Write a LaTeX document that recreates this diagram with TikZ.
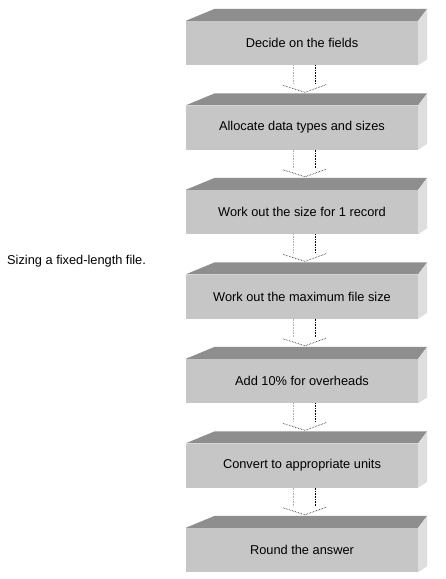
\documentclass[tikz,border=0pt]{standalone}
\usepackage{fontspec}
\setmainfont{Liberation Sans}
\usetikzlibrary{calc}
\definecolor{frontgray}{HTML}{C6C6C6}
\definecolor{topgray}{HTML}{8E8E8E}
\definecolor{sidegray}{HTML}{DEDEDE}
\tikzset{
  stepbox/.style={rectangle, fill=frontgray, minimum width=232pt, minimum height=44pt,
    inner sep=0pt, font=\fontsize{12.8}{15}\selectfont, text=black},
  topface/.style={fill=topgray},
  sideface/.style={fill=sidegray},
  arrlight/.style={draw=black!30, densely dotted, line width=0.6pt},
  arrdark/.style={draw=black, densely dotted, line width=0.6pt},
}
\begin{document}
\begin{tikzpicture}[x=1pt,y=-1pt]
\useasboundingbox (0,0) rectangle (446,579);
\fill[white] (0,0) rectangle (446,579);
\node[anchor=west, inner sep=0pt, font=\fontsize{12.8}{15}\selectfont, text=black] (title) at (7,261) {Sizing a fixed-length file.};
\foreach \i/\t in {1/Decide on the fields, 2/Allocate data types and sizes, 3/Work out the size for 1 record, 4/Work out the maximum file size, 5/Add 10\% for overheads, 6/Convert to appropriate units, 7/Round the answer}{
  \pgfmathsetmacro{\T}{21+84.5*(\i-1)}
  \node[stepbox] (b\i) at (302,\T+22) {\t};
  \fill[topface] (b\i.north west) -- ++(29,-12) -- ($(b\i.north east)+(9,-12)$) -- (b\i.north east) -- cycle;
  \fill[sideface] (b\i.north east) -- ++(9,-12) -- ($(b\i.south east)+(9,-6)$) -- (b\i.south east) -- cycle;
}
\foreach \a/\b in {1/2,2/3,3/4,4/5,5/6,6/7}{
  \coordinate (s\a) at ($(b\a.south)+(0,0)$);
  \coordinate (e\a) at ($(b\b.north)+(0,0)$);
  \draw[arrlight] ($(s\a)+(-9,0)$) -- ($(e\a)+(-9,-21)$);
  \draw[arrdark] ($(s\a)+(13,0)$) -- ($(e\a)+(13,-22)$);
  \draw[arrdark] ($(e\a)+(-19,-20)$) -- ($(e\a)+(3,-13)$) -- ($(e\a)+(25,-21)$);
}
\end{tikzpicture}
\end{document}
